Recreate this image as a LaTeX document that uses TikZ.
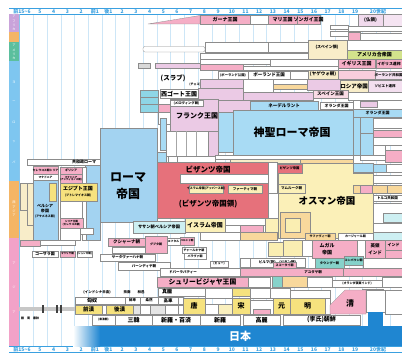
\documentclass[tikz,border=0pt]{standalone}
\usepackage{fontspec}
\newfontfamily\jp{Noto Sans CJK JP}
\usetikzlibrary{calc}
\definecolor{rblue}{HTML}{A3D3F1}
\definecolor{hblue}{HTML}{A8DBF4}
\definecolor{bred}{HTML}{E6717B}
\definecolor{oyel}{HTML}{FBF0B8}
\definecolor{lil}{HTML}{EBCAE5}
\definecolor{pnk}{HTML}{F5AEC6}
\definecolor{yel}{HTML}{F6E27E}
\definecolor{teal}{HTML}{86D2CA}
\definecolor{jblue}{HTML}{1F86D1}
\definecolor{grn}{HTML}{D3E38C}
\definecolor{beige}{HTML}{F8EDC9}
\definecolor{orng}{HTML}{F4B565}
\definecolor{axblue}{HTML}{3AA0E0}
\definecolor{gridc}{HTML}{CDE6F7}
\definecolor{lcyan}{HTML}{CDEFF2}
\definecolor{lorange}{HTML}{F8D89C}
\definecolor{purp}{HTML}{C9A3DA}
\definecolor{sgreen}{HTML}{5BBF9E}
\definecolor{sblue}{HTML}{7EC6F0}
\definecolor{spink}{HTML}{F2A2C8}
\definecolor{cteal}{HTML}{8ED6E6}
\tikzset{bxl/.style={draw=black!45,line width=0.3pt},
 lab/.style={inner sep=0pt,align=center,text=black},
 axl/.style={inner sep=0pt,text=axblue,font=\jp\bfseries\fontsize{5}{5}\selectfont},
 strl/.style={inner sep=0pt,align=center,text=white,font=\jp\fontsize{3.2}{4.2}\selectfont}}
\newcommand\bx[5]{\path[bxl,fill=#1] (#2,#3) rectangle (#4,#5);}
\newcommand\tbx[7]{\path[bxl,fill=#1] (#2,#3) rectangle (#4,#5);\node[lab,font=\jp\bfseries\fontsize{#6}{#6}\selectfont] at ({(#2+#4)/2},{(#3+#5)/2}) {#7};}
\newcommand\lb[4]{\node[lab,font=\jp\bfseries\fontsize{#3}{#3}\selectfont] at (#1,#2) {#4};}
\begin{document}
\begin{tikzpicture}[x=1pt,y=-1pt]
\useasboundingbox (0,0) rectangle (402,353);
\fill[white] (0,0) rectangle (402,353);
% grid
\foreach \i in {0,...,26} \draw[gridc,line width=0.5pt] ({33.4+13.72*\i},14.3) -- ({33.4+13.72*\i},346);
% axes
\draw[axblue,line width=0.4pt] (9,8.3) -- (402,8.3);
\draw[axblue,line width=0.4pt] (9,14.3) -- (402,14.3);
\draw[axblue,line width=0.4pt] (9,346.2) -- (402,346.2);
\draw[axblue,line width=0.4pt] (9,352.3) -- (402,352.3);
\foreach \y in {11.3,349.3}{
 \node[axl] at (22,\y) {前15{\textasciitilde}6};
 \foreach \t [count=\k from 0] in {5,4,3,2,前1,後1,2,3,4,5,6,7,8,9,10,11,12,13,14,15,16,17,18,19}
   \node[axl] at ({40+13.7*\k},\y) {\t};
 \node[axl] at (378,\y) {20世紀};
}
% left strip
\fill[purp] (9,14.3) rectangle (19,32);
\fill[orng] (9,32) rectangle (19,42.5);
\fill[sgreen] (9,42.5) rectangle (19,61.5);
\fill[sblue] (9,61.5) rectangle (19,181);
\fill[orng] (9,181) rectangle (19,238);
\fill[spink] (9,238) rectangle (19,346.2);
\draw[axblue!60,line width=0.4pt] (19.3,14.3) -- (19.3,346.2);
\node[strl] at (14,23) {ア\\フ\\リ\\カ};
\node[strl] at (14,52) {ア\\メ\\リ\\カ};
\node[strl] at (14,82) {ヨ};
\node[strl] at (14,102) {ー};
\node[strl] at (14,122) {ロ};
\node[strl] at (14,142) {ッ};
\node[strl] at (14,162) {パ};
\node[strl] at (14,209) {西\\ア\\ジ\\ア};
\node[strl] at (14,263) {ア};
\node[strl] at (14,287) {ジ};
\node[strl] at (14,312) {ア};

% ---------- Africa row
\path[bxl,fill=pnk] (148,24) -- (200,15.5) -- (200,24) -- cycle;
\tbx{pnk}{200}{15}{250}{24}{5}{ガーナ王国}
\bx{white}{250}{15}{268}{24}
\tbx{pnk}{268}{15}{297}{24}{5}{マリ王国}
\tbx{pnk}{297}{15}{320}{24}{5}{ソンガイ王国}
\tbx{lil!70}{358}{14.5}{383}{26}{4.5}{(仏領)}
\bx{lil!50}{383}{14.5}{402}{26}
\bx{white}{330}{25}{348}{29}
\bx{white}{348}{26}{402}{31}
\bx{white}{330}{31}{348}{36}
\bx{pnk}{348}{32}{360}{40}
\bx{white}{360}{33}{402}{40}
% ---------- America row
\path[bxl,fill=white,rounded corners=2pt] (143,46.5) rectangle (205,52);
\bx{white}{205}{42}{268}{52}
\bx{white}{268}{42}{308}{52}
\bx{beige}{308}{40}{347}{59}
\lb{327}{47}{4}{(スペイン領)}
\bx{white}{347}{40}{402}{50}
\tbx{grn}{347}{50}{402}{59}{5}{アメリカ合衆国}
\bx{white}{200}{53}{308}{59}
% ---------- Europe rows
\bx{white}{200}{59}{270}{64}
\bx{white}{270}{59}{338}{66}
\tbx{pnk}{338}{59}{375}{68}{5}{イギリス王国}
\tbx{pnk}{376}{59}{402}{68}{3.9}{イギリス連邦}
\bx{pnk}{200}{64}{243}{70}
\bx{white}{243}{66}{338}{70}
\bx{black!15}{138}{63}{150}{68}
\bx{lil}{155}{63}{200}{68}
\lb{173}{78}{6.5}{(スラブ)}
\lb{195}{85}{3}{(チェコ)}
\tbx{white}{218}{71}{248}{79}{3.3}{(ポーランド公国)}
\tbx{white}{248}{71}{290}{79}{4.5}{ポーランド王国}
\bx{white}{290}{71}{308}{79}
\tbx{beige}{308}{70}{338}{79}{4.5}{(ヤゲウォ朝)}
\bx{pnk!60}{338}{70}{375}{79}
\tbx{lil!60}{375}{71}{402}{79}{3.5}{ポーランド共和国}
\bx{lil}{200}{79}{243}{88}
\bx{white}{243}{79}{273}{92}
\bx{white}{273}{79}{307}{84}
\bx{lorange}{273}{84}{307}{89}
\bx{lil}{307}{79}{340}{90}
\tbx{beige}{340}{80}{368}{92}{5.5}{ロシア帝国}
\tbx{lil!60}{368}{80}{402}{92}{3.5}{ソビエト連邦}
\bx{lil}{198}{88}{243}{100}
\bx{lil}{243}{92}{313}{100}
\tbx{pnk!45}{313}{90}{348}{98}{4.5}{スペイン王国}
\bx{white}{348}{92}{402}{100}
\bx{lil}{218}{100}{250}{112}
\tbx{hblue}{250}{101}{318}{110}{4.5}{ネーデルラント}
\tbx{white}{320}{102}{353}{109}{4}{オランダ王国}
\bx{white}{353}{100}{402}{109}
\bx{lil}{360}{101}{377}{107}
\tbx{hblue}{353}{109}{402}{117}{4}{オランダ王国}
% Frankish
\path[bxl,fill=lil] (170,99) rectangle (218,131);
\path[bxl,fill=lil] (208,131) rectangle (218,158);
\tbx{white}{170}{100.5}{203}{106}{3.3}{(メロヴィング朝)}
\lb{197}{116}{7}{フランク王国}
\tbx{white}{160}{89.5}{198}{98}{6}{西ゴート王国}
\bx{cteal}{140}{90}{158}{97}
\bx{cteal}{140}{97}{158}{104}
\bx{cteal}{140}{104}{158}{112}
\bx{pnk}{158}{104}{170}{112}
\bx{white}{158}{112}{170}{124}
\bx{hblue}{160}{118}{166}{150}
\bx{white}{166}{131}{208}{156}
\foreach \xx in {176,186,196} \draw[black!35,line width=0.3pt] (\xx,131) -- (\xx,156);
% Holy Roman
\bx{hblue}{218}{112}{233}{152}
\path[bxl,fill=hblue] (233,110) rectangle (353,155);
\lb{292}{132}{11}{神聖ローマ帝国}
\bx{hblue}{353}{117}{360}{155}
\bx{hblue}{360}{117}{373}{133}
\bx{hblue}{360}{133}{373}{155}
\bx{white}{373}{118}{402}{128}
\bx{white}{373}{128}{402}{130}
\bx{pnk}{373}{130}{402}{137}
\bx{white}{373}{137}{402}{145}
\bx{white}{373}{145}{385}{155}
\bx{pnk}{385}{150}{402}{162}
\bx{white}{360}{155}{385}{160}
\bx{white}{215}{155}{353}{159}
\bx{beige}{230}{159}{300}{163}
\bx{lorange}{300}{159}{353}{163}
\bx{hblue}{152}{152}{166}{162}
\bx{white}{168}{156}{177}{162}
\bx{white}{177}{156}{215}{162}
% Roman
\path[bxl,fill=rblue] (100,128) rectangle (157,222);
\path[bxl,fill=rblue] (85,165) rectangle (100,240);
\lb{128}{178}{12}{ローマ}
\lb{128}{194}{12}{帝国}
\path[bxl,fill=white] (27,159) rectangle (100,165);
\lb{84}{162}{4}{共和政ローマ}
% Left west Asia
\path[fill=beige] (20,183) rectangle (33,240);
\bx{beige}{20}{183}{27}{210}
\bx{beige}{27}{183}{33}{225}
\path[bxl,fill=rblue] (33,178) rectangle (58,242);
\tbx{pnk}{33}{166}{58}{174}{2.8}{セレウコス朝シリア}
\tbx{white}{33}{174}{58}{180}{2.8}{マケドニア}
\bx{yel}{49}{183}{56}{201}
\tbx{pnk}{60}{167}{82}{174}{3}{ギリシア}
\tbx{pnk}{60}{174}{82}{183}{2.5}{マケドニア\\(アンティゴノス朝)}
\bx{white}{82}{167}{86}{240}
\path[bxl,fill=yel] (60,183) rectangle (97,201);
\lb{78}{189}{5}{エジプト王国}
\lb{78}{196}{3}{(プトレマイオス朝)}
\node[lab,font=\jp\bfseries\fontsize{4}{5}\selectfont] at (45,211) {ペルシア\\帝国\\{\fontsize{3}{4}\selectfont(アケメネス朝)}};
\bx{white}{60}{201}{82}{218}
\tbx{pnk}{60}{218}{83}{228}{2.6}{シリア王国\\(セレウコス朝)}
\bx{white}{80}{228}{93}{234}
\bx{white}{60}{228}{80}{240}
% Byzantine
\path[bxl,fill=bred] (157,162) rectangle (268,218);
\bx{white}{180}{174}{268}{183}
\tbx{oyel}{189}{185}{223}{193}{3}{イスラム帝国(アッバース朝)}
\tbx{oyel}{228}{185}{262}{193}{3.5}{ファーティマ朝}
\lb{208}{169.5}{7.5}{ビザンツ帝国}
\lb{208}{204}{7.5}{(ビザンツ帝国領)}
\bx{white}{268}{162}{277}{193}
\bx{white}{268}{193}{278}{218}
\tbx{bred}{277}{164}{302}{173}{3.3}{ビザンツ帝国}
% Ottoman
\path[bxl,fill=oyel] (302,163) -- (353,163) -- (353,173) -- (373,173) -- (373,238) -- (278,238) -- (278,173) -- (302,173) -- cycle;
\tbx{oyel}{278}{184}{305}{193}{3.5}{マムルーク朝}
\bx{lorange}{280}{212}{310}{238}
\bx{yel!60}{285}{218}{300}{232}
\lb{327}{201}{9.5}{オスマン帝国}
% right of Ottoman
\bx{hblue}{353}{163}{373}{172}
\bx{hblue}{373}{164}{386}{172}
\bx{white}{386}{164}{402}{172}
\bx{white}{373}{175}{402}{183}
\bx{lorange}{353}{185}{360}{193}
\bx{pnk}{360}{185}{372}{193}
\bx{lorange}{372}{185}{387}{193}
\bx{lorange}{387}{185}{402}{193}
\tbx{white}{373}{195}{402}{201}{3.5}{トルコ共和国}
\bx{white}{373}{203}{402}{223}
\bx{lcyan}{383}{213}{402}{222}
\bx{white}{373}{223}{402}{232}
\bx{lcyan}{373}{232}{402}{240}
% Islamic / Sassanid
\tbx{lcyan}{133}{221}{185}{233}{4.2}{ササン朝ペルシア帝国}
\tbx{oyel}{185}{218}{225}{232}{6}{イスラム帝国}
\bx{white}{225}{218}{265}{225}
\bx{white}{225}{225}{262}{232}
\bx{white}{200}{232}{240}{240}
\bx{lorange}{240}{232}{277}{240}
\bx{oyel}{265}{218}{278}{232}
\tbx{lorange}{305}{233}{335}{240}{3}{サファヴィー朝}
\tbx{white}{338}{233}{373}{240}{3}{カージャール朝}
% South Asia
\bx{pnk}{20}{240}{40}{246}
\bx{white}{40}{240}{75}{245}
\tbx{white}{32}{251}{58}{257}{4}{コーサラ国}
\tbx{pnk}{60}{251}{75}{257}{2.6}{マウリヤ朝}
\tbx{white}{77}{251}{92}{257}{2.6}{(シュンガ朝)}
\tbx{pnk}{108}{238}{145}{246}{4.5}{クシャーナ朝}
\tbx{pnk}{145}{236}{167}{253}{3}{グプタ朝}
\tbx{white}{167}{238}{180}{245}{2.8}{エフタル}
\tbx{pnk}{180}{237}{194}{245}{2.6}{ハルシャ朝}
\bx{white}{112}{247}{145}{253}
\tbx{white}{182}{247}{206}{253}{3}{チャールキヤ朝}
\tbx{white}{184}{253}{206}{259}{3}{パラヴァ朝}
\tbx{white}{100}{254}{155}{261}{3.5}{サータヴァーハナ朝}
\tbx{white}{118}{262}{170}{270}{3.5}{パーンディヤ朝}
\path[bxl,fill=white] (160,268) rectangle (240,276);
\lb{183}{272}{3.5}{ドバーラバティー}
\tbx{white}{210}{261}{228}{267}{3}{(ピュー)}
\bx{white}{240}{258}{250}{267}
\tbx{white}{250}{258}{305}{267}{3.5}{ビルマ(族)\quad(パガン朝)}
\bx{pnk}{240}{225}{263}{232}
\bx{yel!60}{268}{242}{283}{256}
\bx{yel!60}{283}{240}{302}{256}
\bx{white}{302}{240}{312}{256}
\path[bxl,fill=pnk] (312,240) rectangle (357,258);
\lb{327}{246}{5}{ムガル}
\lb{327}{253}{5}{帝国}
\bx{white}{357}{240}{365}{258}
\path[bxl,fill=pnk] (365,240) rectangle (385,258);
\lb{375}{246}{4.5}{英領}
\lb{375}{253}{4.5}{インド}
\tbx{pnk}{385}{240}{402}{250}{4}{インド}
\bx{pnk}{385}{250}{402}{258}
\tbx{teal}{315}{258}{344}{268}{3.2}{タウングー朝}
\tbx{teal}{344}{256}{363}{265}{3}{コンバウン朝}
\bx{white}{363}{258}{402}{268}
\tbx{pnk}{273}{262}{296}{268}{3}{スコータイ朝}
\bx{pnk}{240}{268}{343}{276}
\lb{313}{272}{3.5}{アユタヤ朝}
\bx{pnk}{343}{268}{402}{276}
\tbx{pnk}{157}{277}{248}{287}{6.8}{シュリービジャヤ王国}
\bx{white}{248}{277}{270}{287}
\bx{teal}{272}{276}{282}{287}
\bx{lorange}{282}{276}{307}{287}
\bx{white}{307}{277}{332}{287}
\tbx{white}{332}{280}{382}{287}{3}{(オランダ領東インド)}
\bx{white}{382}{277}{402}{287}
% Indochina / north rows
\lb{97}{292}{3.5}{(インドシナ半島)}
\lb{127}{292}{3.5}{扶南}
\lb{141}{292}{3.5}{林邑}
\path[bxl,fill=white] (158,288) rectangle (240,296);
\lb{167}{292}{5}{真臘}
\bx{white}{75}{297}{125}{304}
\lb{92}{300.5}{5}{匈奴}
\tbx{white}{125}{297}{140}{304}{3.5}{鮮卑}
\tbx{white}{140}{297}{158}{304}{3.5}{柔然}
\tbx{white}{158}{297}{178}{304}{4.5}{高車}
\bx{white}{178}{297}{183}{304}
\bx{white}{205}{288}{232}{298}
\bx{yel}{232}{288}{250}{296}
\bx{white}{250}{288}{270}{298}
\bx{white}{270}{288}{290}{298}
\bx{white}{290}{290}{330}{298}
\bx{lil}{362}{289}{383}{296}
% China main row
\fill[black!22] (19,307) rectangle (75,311);
\foreach \xx in {43,57,61} \fill[black!75] (\xx-0.8,305) rectangle (\xx+0.8,313);
\lb{30}{318}{3}{殷\quad 周\quad 春秋}
\tbx{yel}{75}{305}{102}{314}{5.5}{前漢}
\bx{white}{102}{305}{106}{314}
\tbx{yel}{106}{305}{133}{314}{5.5}{後漢}
\bx{black!10}{133}{305}{140}{314}
\bx{white}{140}{305}{150}{314}
\bx{black!10}{150}{305}{165}{314}
\bx{white}{165}{305}{178}{314}
\bx{white}{178}{305}{183}{314}
\tbx{yel}{183}{298}{205}{314}{7}{唐}
\bx{white}{205}{304}{218}{314}
\bx{yel!50}{218}{304}{232}{314}
\tbx{yel}{232}{298}{250}{314}{7}{宋}
\bx{white}{250}{300}{273}{314}
\bx{pnk}{253}{309}{270}{314}
\tbx{yel}{273}{298}{290}{314}{7}{元}
\tbx{yel}{290}{298}{325}{314}{7}{明}
\bx{white}{325}{298}{330}{314}
\path[bxl,fill=pnk] (330,314) -- (330,305) -- (345,290) -- (366,290) -- (366,314) -- cycle;
\lb{350}{303}{8}{清}
\bx{white}{366}{290}{385}{312}
\bx{white}{385}{290}{402}{314}
% Korea row
\tbx{white}{92}{315}{115}{325}{2.8}{(楽浪郡)}
\tbx{white}{115}{315}{152}{325}{6}{三韓}
\tbx{white}{152}{315}{200}{325}{6}{新羅・百済}
\tbx{white}{200}{315}{240}{325}{6}{新羅}
\tbx{white}{243}{315}{280}{325}{6}{高麗}
\tbx{white}{283}{315}{360}{325}{6}{(李氏)朝鮮}
% Japan
\shade[left color=white,right color=jblue] (73,326) rectangle (100,346);
\fill[jblue] (100,326) rectangle (402,346);
\fill[jblue] (368,312) rectangle (383,326);
\node[lab,text=white,font=\jp\bfseries\fontsize{11}{11}\selectfont] at (240,336) {日本};
\end{tikzpicture}
\end{document}
